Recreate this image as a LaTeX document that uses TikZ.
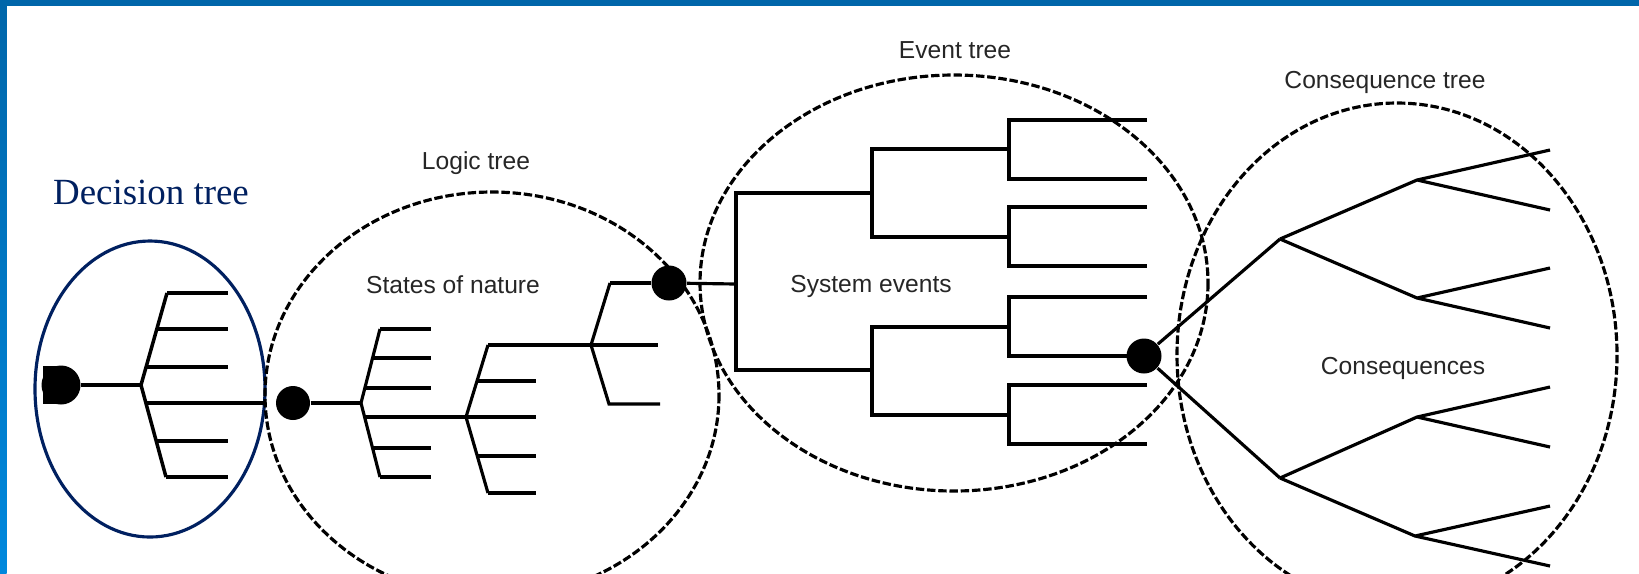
\documentclass[tikz,border=0pt]{standalone}
\usepackage{fontspec}
\newfontfamily\lblfont{Liberation Sans}
\newfontfamily\decfont{Liberation Serif}
\usetikzlibrary{calc}
\definecolor{navy}{RGB}{0,32,96}
\definecolor{framebar}{RGB}{0,102,170}
\definecolor{framelight}{RGB}{0,136,221}
\tikzset{
  tline/.style={line width=0.9pt,line join=miter},
  dashring/.style={line width=0.9pt,dash pattern=on 2.4pt off 0.8pt},
  blob/.style={circle,fill=black,inner sep=0pt,minimum size=3.5mm},
  lbl/.style={font=\lblfont\fontsize{7}{8}\selectfont,text=black!85,anchor=base,inner sep=0pt},
}

\begin{document}
\begin{tikzpicture}[x=0.1mm,y=-0.1mm]
  \fill[white] (0,0) rectangle (1639,573);
  \useasboundingbox (0,0) rectangle (1639,573);
  \clip (0,0) rectangle (1639,573);
  % frame
  \shade[top color=framebar,bottom color=framelight] (0,0) rectangle (6.5,573);
  \fill[framebar] (0,0) rectangle (1639,6);

  % decision tree
  \draw[navy,line width=0.9pt] (150,389) ellipse [x radius=115,y radius=148];
  \node[lbl,font=\decfont\fontsize{10.5}{12}\selectfont,text=navy] (dectitle) at (151,204.5) {Decision tree};
  \node[blob,minimum size=3.9mm] (d0) at (61,385) {};
  \fill (43,366) rectangle (61,404);
  \coordinate (dj) at (141,385);
  \coordinate (dt) at (167,293);
  \coordinate (db) at (166,477);
  \coordinate (dx) at (265,403);
  \draw[tline,line width=1pt] (d0) -- (dj);
  \draw[tline,line width=1pt] (dt) -- (dj) -- (db);
  \foreach \xa/\ya in {167/293,157/329,146/367,157/441,166/477}
    \draw[tline,line width=1pt] (\xa,\ya) -- (228,\ya);
  \draw[tline,line width=1pt] (146,403) -- (dx);

  % logic tree
  \draw[dashring] (492,395) ellipse [x radius=227,y radius=203];
  \node[lbl] (logtitle) at (476,169) {Logic tree};
  \node[lbl] (logtext) at (453,293) {States of nature};
  \node[blob,minimum size=3.4mm] (l0) at (293,403) {};
  \coordinate (lj1) at (361,403);
  \coordinate (lj2) at (466,417);
  \coordinate (lj3) at (591,345);
  \draw[tline] (l0) -- (lj1);
  \draw[tline] (380,329) -- (lj1) -- (380,477);
  \foreach \xa/\ya in {380/329,373/358,365/388,373/448,380/477}
    \draw[tline] (\xa,\ya) -- (431,\ya);
  \draw[tline] (365,417) -- (lj2) -- (536,417);
  \draw[tline] (488,345) -- (lj2) -- (488,493);
  \foreach \xa/\ya in {477/381,477/456,488/493}
    \draw[tline] (\xa,\ya) -- (536,\ya);
  \draw[tline] (488,345) -- (lj3) -- (658,345);
  \draw[tline] (610,283) -- (lj3) -- (609,404) -- (660,404);
  \node[blob] (l1) at (669,283) {};
  \draw[tline] (610,283) -- (l1);

  % event tree
  \draw[dashring] (954,283) ellipse [x radius=254,y radius=208];
  \node[lbl] (evtitle) at (955,58) {Event tree};
  \node[lbl] (evtext) at (871,292) {System events};
  \coordinate (ej) at (736,284);
  \draw[tline] (l1) -- (ej);
  \draw[tline] (872,193) -- (736,193) -- (736,370) -- (872,370);
  \foreach \ya/\yb/\yc in {193/149/237,370/327/415}
    \draw[tline] (1009,\yb) -- (872,\yb) -- (872,\yc) -- (1009,\yc);
  \foreach \yb/\yc in {120/179,207/266,297/356,385/444}
    \draw[tline] (1147,\yb) -- (1009,\yb) -- (1009,\yc) -- (1147,\yc);
  \node[blob] (e1) at (1144,356) {};

  % consequence tree
  \draw[dashring] (1397,355) ellipse [x radius=220,y radius=252];
  \node[lbl] (cqtitle) at (1385,88) {Consequence tree};
  \node[lbl] (cqtext) at (1403,374) {Consequences};
  \coordinate (cu) at (1280,239);
  \coordinate (cd) at (1280,478);
  \draw[tline] (e1) -- (cu);
  \draw[tline] (e1) -- (cd);
  \foreach \c/\xa/\ya in {cu/1417/180,cu/1417/298,cd/1417/417,cd/1415/536}
    \draw[tline] (\c) -- (\xa,\ya) -- (1550,\ya-30) (\xa,\ya) -- (1550,\ya+30);
\end{tikzpicture}
\end{document}
